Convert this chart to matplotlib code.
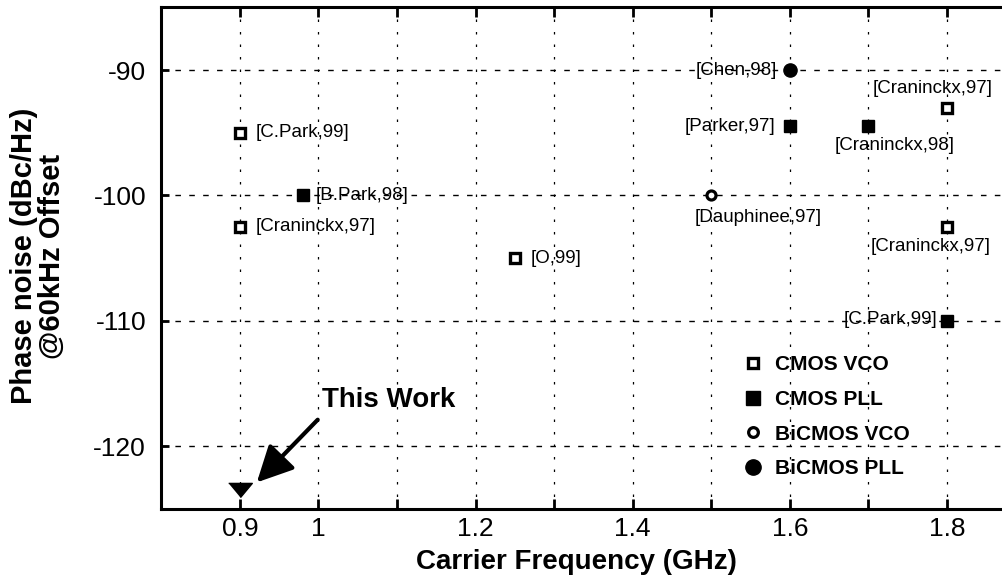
import matplotlib
matplotlib.use('Agg')
import matplotlib.pyplot as plt
from matplotlib.lines import Line2D

plt.rcParams['font.family'] = ['Liberation Sans', 'DejaVu Sans']
plt.rcParams['axes.unicode_minus'] = False

# CMOS VCO (open squares)
cmos_vco_f = [0.9, 0.9, 1.25, 1.8, 1.8]
cmos_vco_pn = [-95, -102.5, -105, -93, -102.5]
cmos_vco_ref = ['[C.Park,99]', '[Craninckx,97]', '[O,99]', '[Craninckx,97]', '[Craninckx,97]']

# CMOS PLL (filled squares)
cmos_pll_f = [0.98, 1.6, 1.7, 1.8]
cmos_pll_pn = [-100, -94.5, -94.5, -110]
cmos_pll_ref = ['[B.Park,98]', '[Parker,97]', '[Craninckx,98]', '[C.Park,99]']

# BiCMOS VCO (open circle) / BiCMOS PLL (filled circle)
bicmos_vco_f = [1.5]
bicmos_vco_pn = [-100]
bicmos_vco_ref = ['[Dauphinee,97]']
bicmos_pll_f = [1.6]
bicmos_pll_pn = [-90]
bicmos_pll_ref = ['[Chen,98]']

# this design
this_f = 0.9
this_pn = -123.5

xticks = [0.9, 1.0, 1.1, 1.2, 1.3, 1.4, 1.5, 1.6, 1.7, 1.8]
xticklabels = ['0.9', '1', '', '1.2', '', '1.4', '', '1.6', '', '1.8']
yticks = [-120, -110, -100, -90]

fig = plt.figure(figsize=(10.02, 5.84), dpi=100)
ax = fig.add_axes([161.4 / 1002, 75.3 / 584, 864 / 1002, 501.3 / 584])
ax.set_xlim(0.8, 1.9)
ax.set_ylim(-125, -85)

# grid
for x in xticks:
    ax.axvline(x, color='black', lw=0.9, ls=(0, (2, 8)), zorder=1)
for y in yticks:
    ax.axhline(y, color='black', lw=1.0, ls=(0, (4, 6)), zorder=1)

ax.plot(cmos_vco_f, cmos_vco_pn, 's', ms=7, mfc='white', mec='black', mew=2.4, ls='none', zorder=3)
ax.plot(cmos_pll_f, cmos_pll_pn, 's', ms=8.5, color='black', ls='none', zorder=3)
ax.plot(bicmos_vco_f, bicmos_vco_pn, 'o', ms=6.5, mfc='white', mec='black', mew=2.3, ls='none', zorder=3)
ax.plot(bicmos_pll_f, bicmos_pll_pn, 'o', ms=9.5, color='black', ls='none', zorder=3)

tri = [(-1, 0.6), (1, 0.6), (0, -0.6)]
ax.plot([this_f], [this_pn], marker=tri, ms=17, color='black', ls='none', zorder=4, clip_on=False)

# reference labels: (offset in points, ha)
offsets = {
    ('vco', 0): ((11, 0), 'left'),
    ('vco', 1): ((11, 0), 'left'),
    ('vco', 2): ((11, 0), 'left'),
    ('vco', 3): ((-10, 14), 'center'),
    ('vco', 4): ((-12, -14), 'center'),
    ('pll', 0): ((9, 0), 'left'),
    ('pll', 1): ((-10, 0), 'right'),
    ('pll', 2): ((19, -14), 'center'),
    ('pll', 3): ((-7, 1), 'right'),
}
for i, (f, pn, ref) in enumerate(zip(cmos_vco_f, cmos_vco_pn, cmos_vco_ref)):
    off, ha = offsets[('vco', i)]
    ax.annotate(ref, (f, pn), xytext=off, textcoords='offset points',
                ha=ha, va='center', fontsize=13.5)
for i, (f, pn, ref) in enumerate(zip(cmos_pll_f, cmos_pll_pn, cmos_pll_ref)):
    off, ha = offsets[('pll', i)]
    ax.annotate(ref, (f, pn), xytext=off, textcoords='offset points',
                ha=ha, va='center', fontsize=13.5)
ax.annotate(bicmos_vco_ref[0], (bicmos_vco_f[0], bicmos_vco_pn[0]), xytext=(34, -16),
            textcoords='offset points', ha='center', va='center', fontsize=13.5)
ax.annotate(bicmos_pll_ref[0], (bicmos_pll_f[0], bicmos_pll_pn[0]), xytext=(-9, 0),
            textcoords='offset points', ha='right', va='center', fontsize=13.5)

# "This Work" arrow
ax.annotate('', xy=(0.9215, -122.9), xytext=(0.999, -117.9),
            arrowprops=dict(arrowstyle='-|>,head_length=1.1,head_width=0.55',
                            lw=3, color='black', mutation_scale=20, shrinkA=0, shrinkB=0))
ax.text(1.004, -116.3, 'This Work', fontsize=20, fontweight='bold', ha='left', va='center')

# legend
handles = [
    Line2D([], [], marker='s', ms=7.5, mfc='white', mec='black', mew=2.4, ls='none'),
    Line2D([], [], marker='s', ms=9.5, color='black', ls='none'),
    Line2D([], [], marker='o', ms=7, mfc='white', mec='black', mew=2.3, ls='none'),
    Line2D([], [], marker='o', ms=11, color='black', ls='none'),
]
labels = ['CMOS VCO', 'CMOS PLL', 'BiCMOS VCO', 'BiCMOS PLL']
leg = ax.legend(handles, labels, loc='upper left', bbox_to_anchor=(732 / 1002, 1 - 345 / 584),
                bbox_transform=fig.transFigure, frameon=False, borderpad=0,
                handlelength=1.0, handletextpad=0.55, labelspacing=0.75,
                prop={'size': 15, 'weight': 'bold'})

ax.set_xticks(xticks)
ax.set_xticklabels(xticklabels)
ax.set_yticks(yticks)
ax.tick_params(axis='x', direction='in', length=7, width=2, top=True, pad=6, labelsize=19)
ax.tick_params(axis='y', direction='in', length=6, width=2, pad=11, labelsize=19)
for side in ['left', 'bottom', 'top']:
    ax.spines[side].set_linewidth(2.2)
ax.spines['right'].set_visible(False)

ax.set_xlabel('Carrier Frequency (GHz)', fontsize=20, fontweight='bold', va='center')
ax.xaxis.set_label_coords((576 - 161.4) / 864, (508.7 - 562) / 501.3)
ax.set_ylabel('Phase noise (dBc/Hz)\n@60kHz Offset', fontsize=21, fontweight='bold',
              va='center', linespacing=1.0)
ax.yaxis.set_label_coords((38 - 161.4) / 864, (508.7 - 256) / 501.3)

fig.savefig('out.png', dpi=100)
